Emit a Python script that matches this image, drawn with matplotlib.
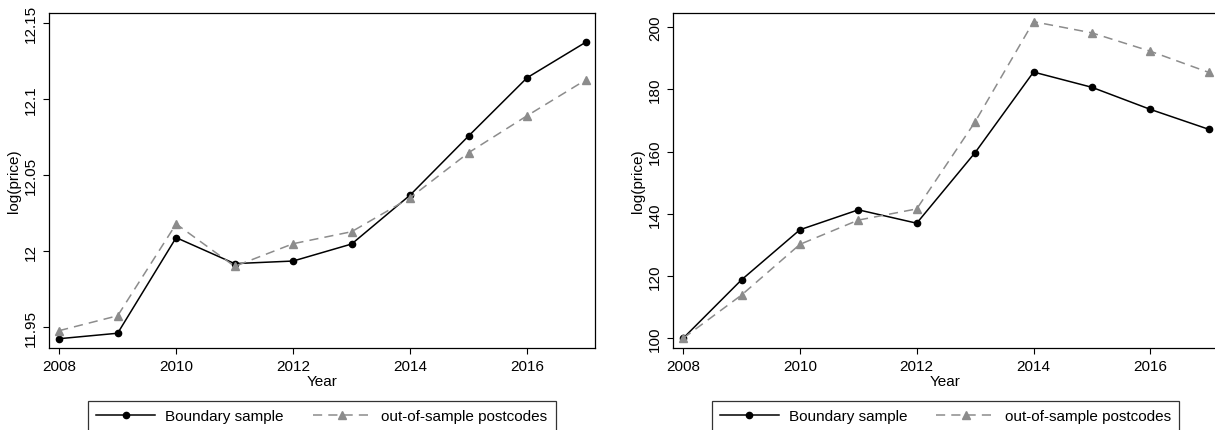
import numpy as np
import matplotlib
matplotlib.use("Agg")
import matplotlib.pyplot as plt

plt.rcParams['font.family'] = ['Liberation Sans', 'DejaVu Sans']
plt.rcParams['font.size'] = 11

years = np.arange(2008, 2018)

# Left panel: log(price) levels
log_boundary = [11.9423, 11.9459, 12.0088, 11.9917, 11.9934, 12.0046, 12.0368, 12.0757, 12.1140, 12.1373]
log_outside = [11.9476, 11.9574, 12.0178, 11.9899, 12.0048, 12.0127, 12.0350, 12.0647, 12.0890, 12.1125]

# Right panel: price index, 2008 = 100
idx_boundary = [100, 118.8, 134.9, 141.3, 137.0, 159.7, 185.6, 180.7, 173.6, 167.2]
idx_outside = [100, 113.9, 130.2, 138.0, 141.6, 169.6, 201.8, 198.2, 192.3, 185.5]

left_yticks = [11.95, 12.0, 12.05, 12.1, 12.15]
left_yticklabels = ["11.95", "12", "12.05", "12.1", "12.15"]
right_yticks = [100, 120, 140, 160, 180, 200]
xticks = [2008, 2010, 2012, 2014, 2016]

fig = plt.figure(figsize=(12.15, 4.31), dpi=100)
ax1 = fig.add_axes([0.0403, 0.1903, 0.4494, 0.7773])
ax2 = fig.add_axes([0.5539, 0.1903, 0.4486, 0.7773])

gray = "#8c8c8c"


def draw_panel(ax, y_black, y_gray, ylim, yticks, yticklabels):
  ax.plot(years, y_black, color="black", lw=1.1, marker="o", ms=4.5,
          label="Boundary sample")
  ax.plot(years, y_gray, color=gray, lw=1.1, ls=(0, (6, 4)), marker="^", ms=5.5,
          label="out-of-sample postcodes")
  ax.set_xlim(2007.826, 2017.16)
  ax.set_ylim(*ylim)
  ax.set_xticks(xticks)
  ax.set_yticks(yticks)
  ax.set_yticklabels(yticklabels, rotation=90, va="center")
  ax.tick_params(direction="out", length=4, width=0.8, pad=4)
  for s in ax.spines.values():
    s.set_linewidth(0.9)
  ax.set_xlabel("Year", labelpad=1)
  ax.set_ylabel("log(price)", labelpad=2)
  leg = ax.legend(loc="upper center", bbox_to_anchor=(0.5, -0.158), ncol=2,
                  frameon=True, fancybox=False, edgecolor="black",
                  handlelength=3.85, handletextpad=0.65, columnspacing=1.9,
                  borderpad=0.55, borderaxespad=0,
                  bbox_transform=ax.transAxes)
  leg.get_frame().set_linewidth(0.9)


draw_panel(ax1, log_boundary, log_outside, (11.9362, 12.1566),
           left_yticks, left_yticklabels)
draw_panel(ax2, idx_boundary, idx_outside, (96.88, 204.6),
           right_yticks, [str(v) for v in right_yticks])

fig.savefig("out.png", dpi=100)
